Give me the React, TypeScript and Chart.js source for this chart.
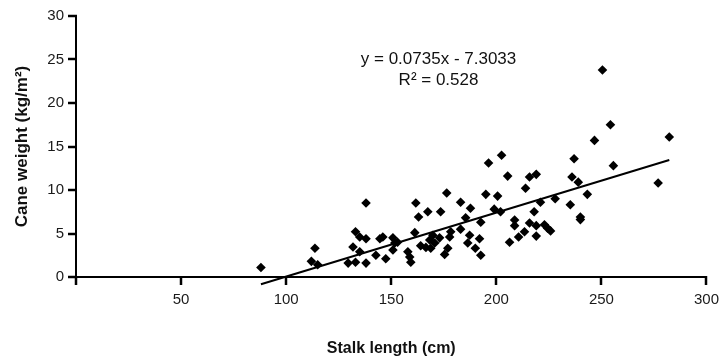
import React, { useEffect, useRef } from 'react';
import { Chart, registerables } from 'chart.js';

Chart.register(...registerables);

// Data
const stalkLength: number[] = [
  88, 112, 113.7, 115, 129.5, 131.8, 133, 133, 135, 135,
  138, 138, 138, 142.7, 144.6, 146, 147.4, 150.8, 151.7, 150.8,
  153, 157.9, 158.8, 159.3, 161.2, 161.7, 163, 164, 167.4, 166.5,
  168.3, 168.8, 169.8, 170.7, 173.5, 173, 175.4, 176.4, 176.9, 177.8,
  178.3, 183, 183, 187.3, 186.4, 187.7, 185.4, 190, 192, 192.6,
  192.6, 195, 196.3, 200.6, 199, 202.5, 202, 205.4, 206.3, 208.7,
  208.7, 210.6, 213.4, 213.9, 215.8, 215.8, 218, 219, 219, 219,
  221, 222.9, 224.4, 225.8, 228, 235.2, 236, 237, 239, 240,
  240, 243.3, 246.7, 250.5, 254.3, 255.7, 277, 282.3,
];
const caneWeight: number[] = [
  1.1, 1.8, 3.3, 1.4, 1.6, 3.45, 5.2, 1.7, 4.6, 2.9,
  4.4, 8.5, 1.6, 2.5, 4.4, 4.6, 2.1, 4.5, 3.9, 3.1,
  4.0, 2.9, 2.3, 1.7, 5.1, 8.5, 6.9, 3.6, 7.5, 3.4,
  4.25, 3.3, 4.8, 3.9, 7.5, 4.5, 2.6, 9.65, 3.3, 4.6,
  5.2, 8.6, 5.5, 4.8, 3.9, 7.9, 6.8, 3.3, 4.4, 6.3,
  2.5, 9.5, 13.1, 9.3, 7.8, 14.0, 7.5, 11.6, 4.0, 6.55,
  5.9, 4.6, 5.2, 10.2, 6.2, 11.5, 7.5, 11.8, 5.9, 4.7,
  8.6, 6.0, 5.6, 5.3, 9.0, 8.3, 11.5, 13.6, 10.9, 6.9,
  6.6, 9.5, 15.7, 23.8, 17.5, 12.8, 10.8, 16.1,
];

// Trendline as printed on the chart
const slope = 0.0735;
const intercept = -7.3033;
const equationLines: string[] = ['y = 0.0735x - 7.3033', 'R\u00b2 = 0.528'];
// anchor of the equation label in data units (x, y of each line)
const equationX = 172.5;
const equationY: number[] = [25.0, 22.6];

const xTitle = 'Stalk length (cm)';
const yTitle = 'Cane weight (kg/m\u00b2)';
const xMin = 0, xMax = 300, xStep = 50;
const yMin = 0, yMax = 30, yStep = 5;

const FONT = "'Liberation Sans', Arial, Helvetica, sans-serif";
const TICK_LEN = 8;

export default function App() {
  const ref = useRef<HTMLCanvasElement | null>(null);

  useEffect(() => {
    const canvas = ref.current;
    if (!canvas) return;
    const points = stalkLength.map((x, i) => ({ x, y: caneWeight[i] }));
    const lo = Math.min(...stalkLength);
    const hi = Math.max(...stalkLength);
    const trend = [
      { x: lo, y: slope * lo + intercept },
      { x: hi, y: slope * hi + intercept },
    ];

    const decorPlugin = {
      id: 'decor',
      afterDraw(chart: any) {
        const { ctx, scales, chartArea } = chart;
        ctx.save();
        // tick marks outside the axes
        ctx.strokeStyle = '#000';
        ctx.lineWidth = 2.5;
        ctx.lineCap = 'butt';
        scales.x.ticks.forEach((t: any) => {
          const px = Math.round(scales.x.getPixelForValue(t.value));
          ctx.beginPath();
          ctx.moveTo(px, chartArea.bottom - 1);
          ctx.lineTo(px, chartArea.bottom + TICK_LEN);
          ctx.stroke();
        });
        scales.y.ticks.forEach((t: any) => {
          const py = Math.round(scales.y.getPixelForValue(t.value));
          ctx.beginPath();
          ctx.moveTo(chartArea.left - TICK_LEN, py);
          ctx.lineTo(chartArea.left + 1, py);
          ctx.stroke();
        });
        // regression equation
        ctx.fillStyle = '#111';
        ctx.font = `17px ${FONT}`;
        ctx.textAlign = 'center';
        ctx.textBaseline = 'middle';
        equationLines.forEach((t, i) => {
          ctx.fillText(t, scales.x.getPixelForValue(equationX), scales.y.getPixelForValue(equationY[i]));
        });
        ctx.restore();
      },
    };

    const chart = new Chart(canvas, {
      type: 'scatter',
      data: {
        datasets: [
          {
            type: 'scatter',
            data: points,
            pointStyle: 'rectRot',
            pointRadius: 4.8,
            pointHoverRadius: 4.8,
            backgroundColor: '#000',
            borderColor: '#000',
            borderWidth: 0,
            order: 1,
          },
          {
            type: 'line',
            data: trend,
            borderColor: '#000',
            borderWidth: 2,
            pointRadius: 0,
            fill: false,
            clip: false,
            order: 2,
          } as any,
        ],
      },
      options: {
        responsive: false,
        animation: false,
        layout: { padding: { left: 0, right: 16, top: 16, bottom: 0 } },
        plugins: {
          legend: { display: false },
          tooltip: { enabled: false },
        },
        scales: {
          x: {
            type: 'linear',
            min: xMin,
            max: xMax,
            afterFit: (s: any) => { s.height = 81; },
            ticks: {
              stepSize: xStep,
              color: '#1a1a1a',
              font: { family: FONT, size: 15 },
              padding: 6,
              maxRotation: 0,
              callback: (v: any) => (Number(v) === 0 ? '' : String(v)),
            },
            grid: {
              drawOnChartArea: false,
              drawTicks: true,
              tickLength: TICK_LEN,
              color: '#000',
              lineWidth: 2,
            },
            border: { display: true, color: '#000', width: 2 },
            title: {
              display: true,
              text: xTitle,
              color: '#111',
              font: { family: FONT, size: 16, weight: 'bold' },
              padding: { top: 0, bottom: 0 },
            },
          },
          y: {
            type: 'linear',
            min: yMin,
            max: yMax,
            afterFit: (s: any) => { s.width = 76; },
            ticks: {
              stepSize: yStep,
              color: '#1a1a1a',
              font: { family: FONT, size: 15 },
              padding: 4,
            },
            grid: {
              drawOnChartArea: false,
              drawTicks: true,
              tickLength: TICK_LEN,
              color: '#000',
              lineWidth: 2,
            },
            border: { display: true, color: '#000', width: 2 },
            title: {
              display: true,
              text: yTitle,
              color: '#111',
              font: { family: FONT, size: 17, weight: 'bold' },
              padding: { top: 12, bottom: 0 },
            },
          },
        },
      } as any,
      plugins: [decorPlugin],
    });
    return () => chart.destroy();
  }, []);

  return (
    <div style={{ position: 'absolute', left: 0, top: 0, width: 725, height: 358, background: '#fff' }}>
      <canvas ref={ref} width={725} height={358} />
    </div>
  );
}
